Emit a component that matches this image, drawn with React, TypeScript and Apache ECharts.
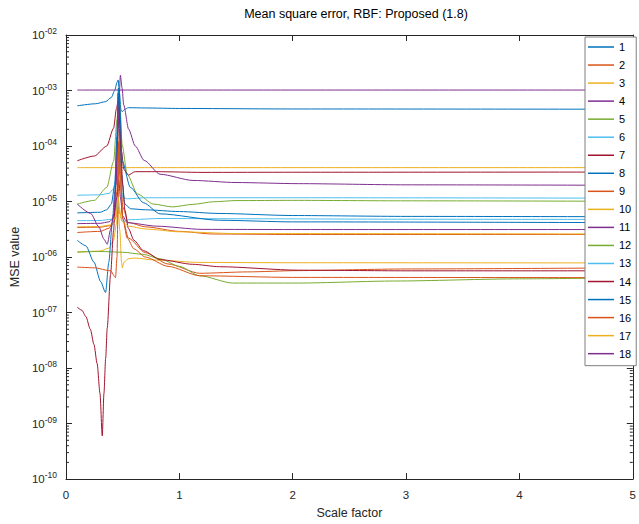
import React, { useEffect, useRef } from "react";
import * as echarts from "echarts";

const FONT = "'Liberation Sans', Arial, Helvetica, sans-serif";
const AXIS_COLOR = "#262626";

const titleText = "Mean square error, RBF: Proposed (1.8)";
const xAxisName = "Scale factor";
const yAxisName = "MSE value";
const xTickLabels = ["0", "1", "2", "3", "4", "5"];
const yTickExponents: Record<string, string> = {
  "-2": "-02", "-3": "-03", "-4": "-04", "-5": "-05", "-6": "-06",
  "-7": "-07", "-8": "-08", "-9": "-09", "-10": "-10",
};

const seriesNames = ["1", "2", "3", "4", "5", "6", "7", "8", "9", "10", "11", "12", "13", "14", "15", "16", "17", "18"];
const seriesColors = [
  "#0072BD", "#D95319", "#EDB120", "#7E2F8E", "#77AC30", "#4DBEEE", "#A2142F",
  "#0072BD", "#D95319", "#EDB120", "#7E2F8E", "#77AC30", "#4DBEEE", "#A2142F",
  "#0072BD", "#D95319", "#EDB120", "#7E2F8E",
];

const s1 = [[0.1, 5.3e-4], [0.26, 5.77e-4], [0.35, 6.3e-4], [0.4, 7.5e-4], [0.43, 1.0e-3], [0.45, 1.4e-3], [0.46, 1.55e-3], [0.472, 9e-4], [0.485, 4.5e-4], [0.495, 4.16e-4], [0.52, 4.6e-4], [0.55, 4.9e-4], [0.7, 4.85e-4], [1, 4.75e-4], [2, 4.65e-4], [5, 4.6e-4]];
const s2 = [[0.1, 3.4e-6], [0.3, 3.45e-6], [0.4, 3.7e-6], [0.44, 5e-6], [0.46, 3e-5], [0.47, 2e-4], [0.48, 6e-5], [0.5, 8e-6], [0.55, 4.2e-6], [0.7, 3.5e-6], [1, 2.9e-6], [1.3, 2.6e-6], [2, 2.55e-6], [5, 2.55e-6]];
const s3 = [[0.1, 4.08e-5], [1, 4.08e-5], [5, 4.08e-5]];
const s4 = [[0.1, 1.02e-3], [1, 1.02e-3], [5, 1.02e-3]];
const s5 = [[0.1, 9.0e-6], [0.25, 1.05e-5], [0.36, 1.8e-5], [0.42, 5.3e-5], [0.45, 3e-4], [0.465, 9e-4], [0.48, 4.0e-4], [0.495, 1.05e-4], [0.54, 3.1e-5], [0.63, 1.37e-5], [0.77, 9.0e-6], [0.94, 8.0e-6], [1.12, 8.9e-6], [1.3, 9.9e-6], [1.5, 1.04e-5], [2, 1.05e-5], [3, 1.03e-5], [5, 1.01e-5]];
const s6 = [[0.1, 1.3e-5], [0.3, 1.32e-5], [0.38, 1.4e-5], [0.42, 1.7e-5], [0.45, 3e-5], [0.465, 5e-5], [0.48, 2.5e-5], [0.5, 1.2e-5], [0.54, 1.12e-5], [0.7, 1.17e-5], [1, 1.17e-5], [2, 1.17e-5], [5, 1.15e-5]];
const s7 = [[0.1, 5.43e-5], [0.25, 6.6e-5], [0.36, 1.0e-4], [0.42, 2.1e-4], [0.445, 4.7e-4], [0.46, 6.5e-4], [0.475, 2.5e-4], [0.49, 8e-5], [0.51, 3.8e-5], [0.55, 3.0e-5], [0.61, 3.45e-5], [0.8, 3.45e-5], [1.2, 3.35e-5], [2, 3.37e-5], [5, 3.4e-5]];
const s8 = [[0.1, 6.25e-6], [0.3, 6.4e-6], [0.36, 7.1e-6], [0.4, 9e-6], [0.43, 2e-5], [0.45, 1.5e-4], [0.46, 9e-4], [0.47, 3e-4], [0.49, 3e-5], [0.52, 9e-6], [0.57, 7.4e-6], [0.7, 7.1e-6], [1, 6.6e-6], [1.35, 6.1e-6], [2, 5.6e-6], [3, 5.4e-6], [5, 5.32e-6]];
const s9 = [[0.1, 2.77e-6], [0.3, 2.9e-6], [0.38, 3.3e-6], [0.42, 4.5e-6], [0.45, 1.5e-5], [0.465, 1.2e-4], [0.48, 2e-5], [0.5, 5e-6], [0.55, 2.2e-6], [0.7, 1.2e-6], [0.9, 7.5e-7], [1.18, 5.1e-7], [1.6, 5.4e-7], [2.05, 5.7e-7], [3, 6.1e-7], [5, 6.4e-7]];
const s10 = [[0.1, 1.23e-6], [0.3, 1.28e-6], [0.38, 1.45e-6], [0.42, 2e-6], [0.445, 4e-6], [0.46, 8e-6], [0.475, 3e-6], [0.49, 8e-7], [0.497, 6.4e-7], [0.51, 8e-7], [0.55, 9.3e-7], [0.6, 9.6e-7], [0.8, 8.8e-7], [1.18, 8.0e-7], [2, 7.9e-7], [5, 7.83e-7]];
const s11 = [[0.1, 4.0e-6], [0.3, 4.05e-6], [0.38, 4.3e-6], [0.42, 5e-6], [0.45, 1.2e-5], [0.465, 2.5e-5], [0.48, 1.2e-5], [0.5, 5.5e-6], [0.54, 4.16e-6], [0.8, 3.6e-6], [1.2, 3.15e-6], [2, 3.13e-6], [5, 3.13e-6]];
const s12 = [[0.1, 1.23e-6], [0.3, 1.26e-6], [0.5, 1.22e-6], [0.68, 1.12e-6], [0.83, 9.3e-7], [1.0, 6.8e-7], [1.18, 4.6e-7], [1.47, 3.4e-7], [2.05, 3.4e-7], [2.9, 3.7e-7], [4, 4.05e-7], [5, 4.25e-7]];
const s13 = [[0.1, 4.52e-6], [0.3, 4.55e-6], [0.4, 4.8e-6], [0.44, 6e-6], [0.46, 1.2e-5], [0.475, 6e-6], [0.5, 4.3e-6], [0.55, 4.7e-6], [0.83, 4.95e-6], [1.5, 4.9e-6], [3, 4.8e-6], [5, 4.75e-6]];
const s14 = [[0.1, 1.25e-7], [0.14, 1.1e-7], [0.175, 8.5e-8], [0.215, 5.0e-8], [0.247, 2.66e-8], [0.275, 1.2e-8], [0.3, 3.5e-9], [0.32, 6.0e-10], [0.335, 3.5e-9], [0.35, 1.5e-8], [0.364, 5.3e-8], [0.393, 4.8e-7], [0.42, 3e-6], [0.44, 2e-5], [0.46, 2e-4], [0.472, 5e-4], [0.485, 8e-5], [0.5, 2e-5], [0.52, 7e-6], [0.55, 3.3e-6], [0.6, 2.0e-6], [0.684, 1.3e-6], [0.83, 9.0e-7], [1.118, 7.4e-7], [1.354, 6.7e-7], [2.05, 5.8e-7], [3, 5.65e-7], [5, 5.65e-7]];
const s15 = [[0.1, 2.0e-6], [0.175, 1.6e-6], [0.247, 8.1e-7], [0.306, 3.6e-7], [0.349, 2.3e-7], [0.378, 8.1e-7], [0.408, 4.0e-6], [0.43, 1.5e-5], [0.45, 1.5e-4], [0.462, 1.1e-3], [0.475, 5e-4], [0.495, 5.4e-5], [0.568, 1.8e-5], [0.684, 9.5e-6], [0.83, 6e-6], [1.354, 4.6e-6], [2, 4.3e-6], [5, 4.16e-6]];
const s16 = [[0.1, 6.6e-7], [0.25, 6.4e-7], [0.393, 5.65e-7], [0.437, 4.25e-7], [0.45, 1e-6], [0.46, 1e-5], [0.47, 1.2e-4], [0.48, 3e-5], [0.5, 5e-6], [0.54, 2.2e-6], [0.6, 1.4e-6], [0.7, 1.0e-6], [0.9, 6.8e-7], [1.18, 4.6e-7], [2, 4.3e-7], [5, 4.25e-7]];
const s17 = [[0.1, 3.5e-6], [0.3, 3.55e-6], [0.4, 3.8e-6], [0.44, 5.5e-6], [0.46, 1.2e-5], [0.47, 8e-6], [0.49, 4.5e-6], [0.55, 3.6e-6], [0.7, 3.2e-6], [1, 2.85e-6], [1.5, 2.65e-6], [5, 2.6e-6]];
const s18 = [[0.1, 9.0e-6], [0.218, 6.1e-6], [0.29, 3.5e-6], [0.335, 2.1e-6], [0.364, 1.7e-6], [0.393, 3.1e-6], [0.422, 6.1e-6], [0.44, 2e-5], [0.46, 2e-4], [0.48, 1.88e-3], [0.495, 1.1e-3], [0.509, 5.5e-4], [0.553, 2.0e-4], [0.611, 1.0e-4], [0.69, 5.5e-5], [0.83, 3.1e-5], [1.12, 2.4e-5], [1.5, 2.2e-5], [2.05, 2.1e-5], [3, 2.0e-5], [5, 1.96e-5]];

const seriesData = [s1, s2, s3, s4, s5, s6, s7, s8, s9, s10, s11, s12, s13, s14, s15, s16, s17, s18];

// minor tick positions of the log axis (2..9 within each decade)
const minorMultipliers = [2, 3, 4, 5, 6, 7, 8, 9];
const decadeExponents = [-10, -9, -8, -7, -6, -5, -4, -3];

export default function App() {
  const ref = useRef<HTMLDivElement>(null);

  useEffect(() => {
    if (!ref.current) return;
    const chart = echarts.init(ref.current, undefined, { renderer: "svg" });

    const minorTicks: number[][] = [];
    decadeExponents.forEach((e) => {
      minorMultipliers.forEach((m) => {
        minorTicks.push([0, Number(m + "e" + e)]);
      });
    });

    const lineSeries = seriesData.map((d, i) => ({
      name: seriesNames[i],
      type: "line",
      data: d,
      showSymbol: false,
      symbol: "none",
      smooth: 0.25,
      smoothMonotone: "x",
      color: seriesColors[i],
      lineStyle: { width: 1, color: seriesColors[i] },
      emphasis: { disabled: true },
      z: 2,
    }));

    const tickStyle = { color: AXIS_COLOR, width: 1 };

    chart.setOption({
      animation: false,
      backgroundColor: "#ffffff",
      textStyle: { fontFamily: FONT },
      title: {
        text: titleText,
        left: 351,
        textAlign: "center",
        top: 2,
        textStyle: { fontSize: 12.5, fontWeight: "normal", color: "#000", fontFamily: FONT },
      },
      grid: { left: 65, top: 35, width: 572, height: 452 },
      legend: {
        data: seriesNames,
        orient: "vertical",
        left: 585,
        top: 37,
        padding: [3, 5, 5, 3],
        itemGap: 4.04,
        itemWidth: 26,
        itemHeight: 1.5,
        icon: "rect",
        selectedMode: false,
        backgroundColor: "#ffffff",
        borderColor: "#7f7f7f",
        borderWidth: 1,
        textStyle: { fontSize: 11, color: "#000", fontFamily: FONT, lineHeight: 14 },
        z: 10,
      },
      xAxis: [
        {
          type: "value",
          min: 0,
          max: 5,
          interval: 1,
          position: "bottom",
          name: xAxisName,
          nameLocation: "middle",
          nameGap: 25,
          nameTextStyle: { fontSize: 12.5, color: AXIS_COLOR, fontFamily: FONT },
          axisLine: { show: true, onZero: false, lineStyle: tickStyle },
          axisTick: { show: true, inside: true, length: 6, lineStyle: tickStyle },
          axisLabel: {
            margin: 10,
            fontSize: 11.5,
            color: AXIS_COLOR,
            fontFamily: FONT,
            showMaxLabel: true,
            showMinLabel: true,
            formatter: (v: number) => xTickLabels[Math.round(v)] ?? String(v),
          },
          splitLine: { show: false },
        },
        {
          type: "value",
          min: 0,
          max: 5,
          interval: 1,
          position: "top",
          axisLine: { show: true, onZero: false, lineStyle: tickStyle },
          axisTick: { show: true, inside: true, length: 6, lineStyle: tickStyle },
          axisLabel: { show: false },
          splitLine: { show: false },
        },
      ],
      yAxis: [
        {
          type: "log",
          logBase: 10,
          min: 1e-10,
          max: 1e-2,
          interval: 1,
          splitNumber: 8,
          position: "left",
          name: yAxisName,
          nameLocation: "middle",
          nameGap: 41,
          nameTextStyle: { fontSize: 12.5, color: AXIS_COLOR, fontFamily: FONT },
          axisLine: { show: true, onZero: false, lineStyle: tickStyle },
          axisTick: { show: true, inside: true, length: 6, lineStyle: tickStyle },
          axisLabel: {
            margin: 9,
            color: AXIS_COLOR,
            fontFamily: FONT,
            formatter: (v: number) => {
              const e = String(Math.round(Math.log10(v)));
              return "{b|10}{s|" + (yTickExponents[e] ?? e) + "}";
            },
            rich: {
              b: { fontSize: 11.5, lineHeight: 17, color: AXIS_COLOR, fontFamily: FONT, verticalAlign: "middle" },
              s: { fontSize: 8.5, lineHeight: 9, color: AXIS_COLOR, fontFamily: FONT, verticalAlign: "top" },
            },
          },
          splitLine: { show: false },
        },
        {
          type: "log",
          logBase: 10,
          min: 1e-10,
          max: 1e-2,
          interval: 1,
          splitNumber: 8,
          position: "right",
          axisLine: { show: true, onZero: false, lineStyle: tickStyle },
          axisTick: { show: true, inside: true, length: 6, lineStyle: tickStyle },
          axisLabel: { show: false },
          splitLine: { show: false },
        },
      ],
      series: [
        ...lineSeries,
        {
          type: "custom",
          name: "minorTicks",
          xAxisIndex: 0,
          yAxisIndex: 0,
          silent: true,
          clip: false,
          z: 3,
          data: minorTicks,
          renderItem: (_p: any, api: any) => {
            const v = api.value(1);
            const l = api.coord([0, v]);
            const r = api.coord([5, v]);
            return {
              type: "group",
              children: [
                { type: "line", shape: { x1: l[0], y1: l[1], x2: l[0] + 3, y2: l[1] }, style: { stroke: AXIS_COLOR, lineWidth: 1 } },
                { type: "line", shape: { x1: r[0], y1: r[1], x2: r[0] - 3, y2: r[1] }, style: { stroke: AXIS_COLOR, lineWidth: 1 } },
              ],
            };
          },
        },
      ],
    });

    return () => chart.dispose();
  }, []);

  return (
    <div
      ref={ref}
      style={{ position: "fixed", left: 0, top: 0, width: 639, height: 524, background: "#fff" }}
    />
  );
}
